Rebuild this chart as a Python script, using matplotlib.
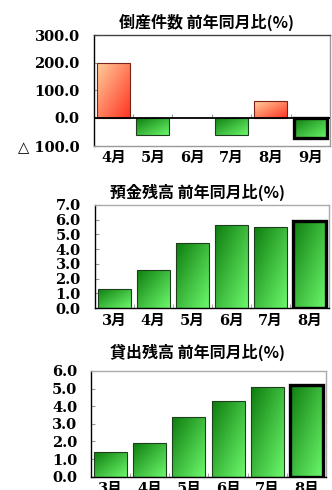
import numpy as np
import matplotlib
matplotlib.use("Agg")
from matplotlib import pyplot as plt
from matplotlib.colors import to_rgb

# data
months_bankrupt = ["4月", "5月", "6月", "7月", "8月", "9月"]
bankrupt_yoy = [200.0, -60.0, 0.0, -63.0, 60.0, -72.0]
bankrupt_ticks = [300, 200, 100, 0, -100]
bankrupt_ticklabels = ["300.0", "200.0", "100.0", "0.0", "△ 100.0"]

months_bank = ["3月", "4月", "5月", "6月", "7月", "8月"]
deposit_yoy = [1.3, 2.6, 4.4, 5.6, 5.5, 5.9]
loan_yoy = [1.4, 1.9, 3.4, 4.3, 5.1, 5.2]

titles = ["倒産件数 前年同月比(%)", "預金残高 前年同月比(%)", "貸出残高 前年同月比(%)"]

serif = ["DejaVu Serif", "Noto Sans CJK JP", "DejaVu Sans"]
cjk = ["Noto Sans CJK JP", "DejaVu Sans"]

GREEN = ("#0e7d0e", "#6cf86c", "#1e3f1e")
RED = ("#ffcf9c", "#ff3322", "#7a2418")


def gradient(c0, c1, n=64):
    a = np.array(to_rgb(c0))
    b = np.array(to_rgb(c1))
    xx, yy = np.meshgrid(np.linspace(0, 1, n), np.linspace(0, 1, n))
    t = ((xx + yy) / 2)[..., None]
    return a * (1 - t) + b * t


def draw_panel(ax, labels, values, ylim, ticks, ticklabels, zero_line=False):
    x = np.arange(len(values))
    colors = [RED if v > 0 and zero_line else GREEN for v in values]
    bars = ax.bar(x, values, width=0.84, facecolor="none", zorder=3)
    for i, (patch, col) in enumerate(zip(bars.patches, colors)):
        if patch.get_height() == 0:
            patch.set_visible(False)
            continue
        bb = patch.get_bbox()
        y0, y1 = min(bb.y0, bb.y1), max(bb.y0, bb.y1)
        im = ax.imshow(gradient(col[0], col[1]), extent=(bb.x0, bb.x1, y0, y1),
                       origin="upper", aspect="auto", zorder=2, interpolation="bilinear")
        im.set_clip_path(patch)
        if i == len(values) - 1:
            patch.set_edgecolor("black")
            patch.set_linewidth(2.4)
        else:
            patch.set_edgecolor(col[2])
            patch.set_linewidth(0.8)

    ax.set_xlim(-0.5, len(values) - 0.5)
    ax.set_ylim(*ylim)
    ax.set_yticks(ticks)
    ax.set_yticklabels(ticklabels, fontfamily=serif, fontweight="bold", fontsize=10.5)
    ax.tick_params(axis="y", direction="in", length=3, color="#999999", pad=10)
    ax.set_xticks(x)
    ax.set_xticklabels(labels, fontfamily=serif, fontweight="bold", fontsize=10.5)
    ax.tick_params(axis="x", length=0, pad=4)

    # small grey marks at category boundaries
    bounds = np.arange(len(values) - 1) + 0.5
    if zero_line:
        ax.axhline(0, color="black", lw=1.3, zorder=4)
        frac = (0 - ylim[0]) / (ylim[1] - ylim[0])
        sec = ax.secondary_xaxis(frac)
        sec.set_xticks(bounds)
        sec.set_xticklabels([])
        sec.tick_params(direction="in", length=3, color="#999999")
        sec.spines["bottom"].set_visible(False)
        sec.spines["top"].set_visible(False)
        ax.spines["left"].set_color("black")
        ax.spines["top"].set_color("#444444")
        ax.spines["right"].set_color("#999999")
        ax.spines["bottom"].set_color("#999999")
    else:
        ax.set_xticks(bounds, minor=True)
        ax.tick_params(axis="x", which="minor", direction="in", length=3, color="#999999")
        ax.spines["left"].set_color("black")
        ax.spines["bottom"].set_color("black")
        ax.spines["top"].set_color("#aaaaaa")
        ax.spines["right"].set_color("#aaaaaa")
    for s in ax.spines.values():
        s.set_linewidth(1.0)


fig = plt.figure(figsize=(3.32, 4.9), dpi=100)

ax1 = fig.add_axes([0.282, 0.703, 0.712, 0.225])
draw_panel(ax1, months_bankrupt, bankrupt_yoy, (-100, 300), bankrupt_ticks,
           bankrupt_ticklabels, zero_line=True)

dep_ticks = np.arange(0, 8)
ax2 = fig.add_axes([0.285, 0.371, 0.705, 0.211])
draw_panel(ax2, months_bank, deposit_yoy, (0, 7), dep_ticks,
           ["%.1f" % t for t in dep_ticks])

loan_ticks = np.arange(0, 7)
ax3 = fig.add_axes([0.274, 0.027, 0.708, 0.216])
draw_panel(ax3, months_bank, loan_yoy, (0, 6), loan_ticks,
           ["%.1f" % t for t in loan_ticks])

for (tx, ty), title in zip([(206, 22), (198, 192), (197, 352)], titles):
    fig.text(tx / 332, 1 - ty / 490, title, ha="center", va="center",
             fontfamily=cjk, fontweight="bold", fontsize=11.5)

fig.savefig("out.png", dpi=100)
